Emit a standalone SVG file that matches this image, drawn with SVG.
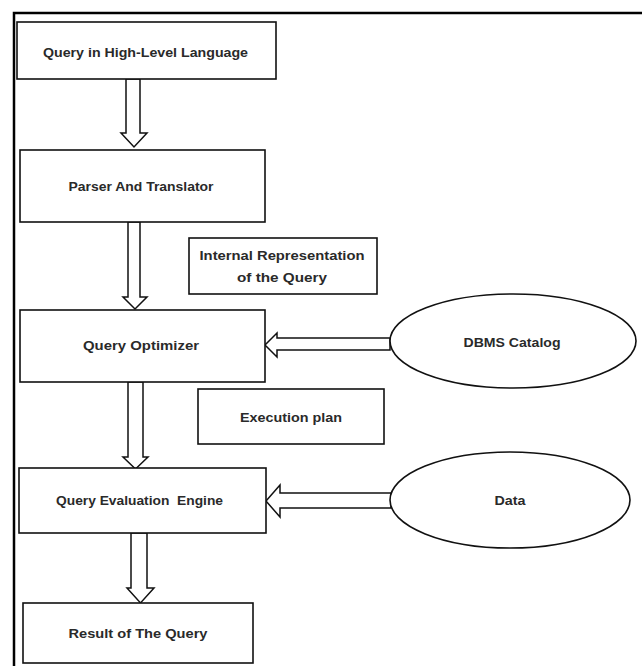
<svg xmlns="http://www.w3.org/2000/svg" width="642" height="666" viewBox="0 0 642 666">
<style>
.box{fill:#fff;stroke:#111;stroke-width:1.6}
.ell{fill:#fff;stroke:#111;stroke-width:1.6}
.arr{fill:#fff;stroke:#111;stroke-width:1.5;stroke-linejoin:miter}
.t{font-family:"Liberation Sans",Arial,sans-serif;font-size:13px;font-weight:bold;fill:#2a2a2a;text-anchor:middle;white-space:pre}
.frame{stroke:#000;stroke-width:2.5;fill:none}
</style>
<rect width="642" height="666" fill="#fff"/>
<path class="frame" d="M14,666 V13 H642"/>
<g id="connectors">
<path class="arr" d="M126,79 V133 H121 L134,147 L147,133 H140 V79 Z"/>
<path class="arr" d="M128,222 V297 H123 L135,309 L147,297 H140 V222 Z"/>
<path class="arr" d="M390,338 H277 V333 L265,345 L277,357 V350 H390 Z"/>
<path class="arr" d="M128,382 V457 H123 L135.5,469 L148,457 H143 V382 Z"/>
<path class="arr" d="M391,493 H280 V485 L266,501 L280,517 V508 H391 Z"/>
<path class="arr" d="M131,533 V588 H127 L140.5,603 L154,588 H147 V533 Z"/>
</g>
<g id="n1"><rect class="box" x="17" y="22" width="259" height="57"/><text class="t" x="145.5" y="57" textLength="205" lengthAdjust="spacingAndGlyphs">Query in High-Level Language</text></g>
<g id="n2"><rect class="box" x="20" y="150" width="245" height="72"/><text class="t" x="141" y="191" textLength="145" lengthAdjust="spacingAndGlyphs">Parser And Translator</text></g>
<g id="n3"><rect class="box" x="189" y="238" width="188" height="56"/><text class="t" x="282" y="260" textLength="165" lengthAdjust="spacingAndGlyphs">Internal Representation</text><text class="t" x="282" y="282" textLength="90" lengthAdjust="spacingAndGlyphs">of the Query</text></g>
<g id="n4"><rect class="box" x="20" y="310" width="245" height="72"/><text class="t" x="141" y="350" textLength="116" lengthAdjust="spacingAndGlyphs">Query Optimizer</text></g>
<g id="n5"><ellipse class="ell" cx="513" cy="341" rx="123" ry="47"/><text class="t" x="512" y="347" textLength="97" lengthAdjust="spacingAndGlyphs">DBMS Catalog</text></g>
<g id="n6"><rect class="box" x="198" y="389" width="186" height="55"/><text class="t" x="291" y="422" textLength="102" lengthAdjust="spacingAndGlyphs">Execution plan</text></g>
<g id="n7"><rect class="box" x="19" y="468" width="247" height="65"/><text class="t" x="139.5" y="505" textLength="167" lengthAdjust="spacingAndGlyphs">Query Evaluation  Engine</text></g>
<g id="n8"><ellipse class="ell" cx="510" cy="500" rx="120" ry="48"/><text class="t" x="510" y="505" textLength="31" lengthAdjust="spacingAndGlyphs">Data</text></g>
<g id="n9"><rect class="box" x="23" y="603" width="230" height="60"/><text class="t" x="138" y="638" textLength="139" lengthAdjust="spacingAndGlyphs">Result of The Query</text></g>
</svg>
